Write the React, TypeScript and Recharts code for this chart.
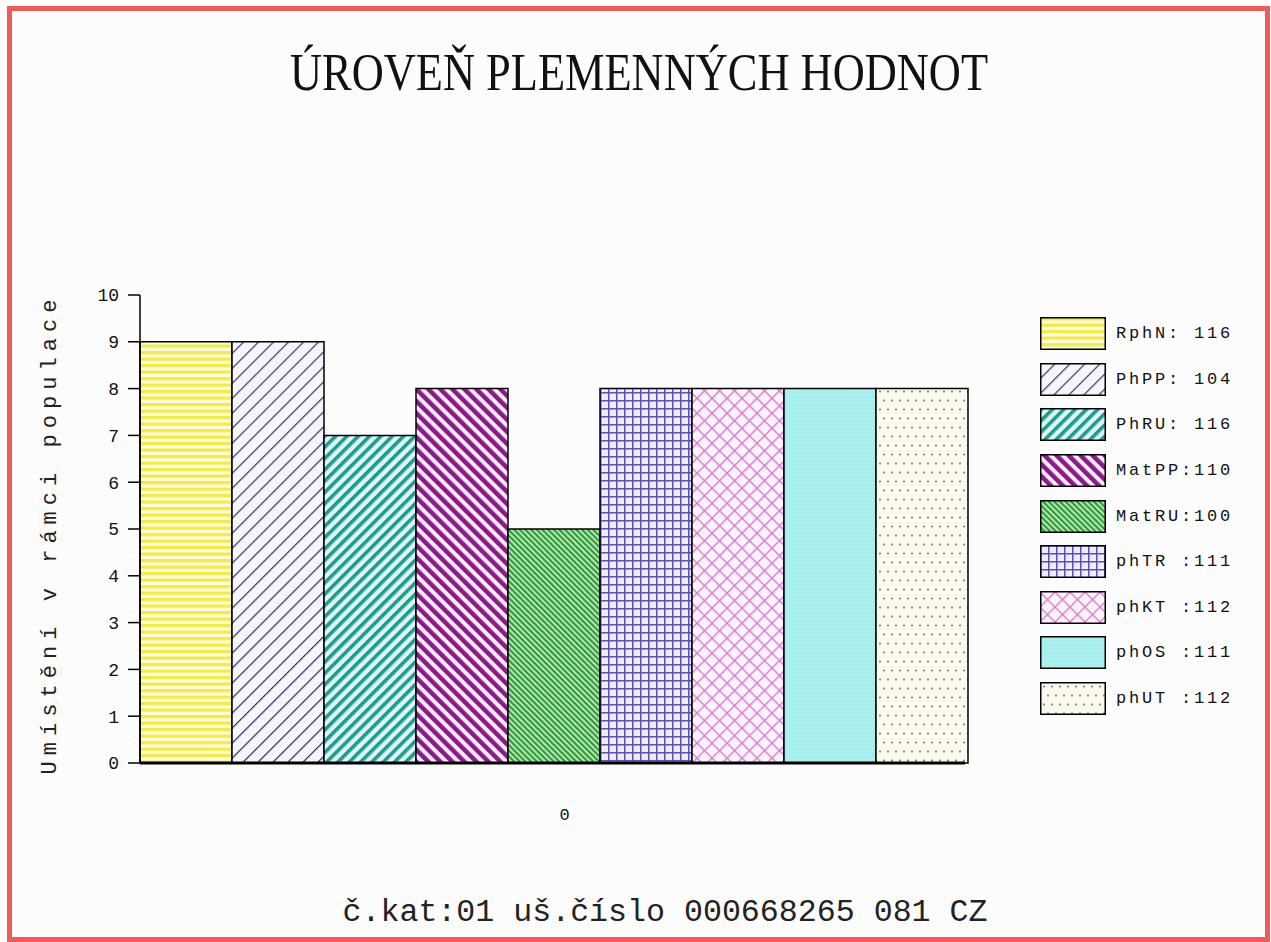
import React from 'react'
import { BarChart, Bar, XAxis, YAxis, Legend } from 'recharts'

const categories = ['0']
const seriesNames = ['RphN', 'PhPP', 'PhRU', 'MatPP', 'MatRU', 'phTR', 'phKT', 'phOS', 'phUT']
const rankValues = [9, 9, 7, 8, 5, 8, 8, 8, 8]
const legendLabels = ['RphN: 116', 'PhPP: 104', 'PhRU: 116', 'MatPP:110', 'MatRU:100', 'phTR :111', 'phKT :112', 'phOS :111', 'phUT :112']
const yTicks = [0, 1, 2, 3, 4, 5, 6, 7, 8, 9, 10]

const titleText = 'ÚROVEŇ PLEMENNÝCH HODNOT'
const yLabelText = 'Umístění v rámci populace'
const footerText = 'č.kat:01 uš.číslo 000668265 081 CZ'

const mono = '"Liberation Mono", "DejaVu Sans Mono", monospace'

// one row per category, one key per series
const radky = categories.map((kat) => {
  const radek: Record<string, string | number> = { name: kat }
  seriesNames.forEach((s, i) => { radek[s] = rankValues[i] })
  return radek
})

const vzory = () => (
  <svg width={0} height={0} style={{ position: 'absolute' }}>
    <defs>
      <pattern id="vz0" patternUnits="userSpaceOnUse" width={8} height={6.5}>
        <rect width={8} height={6.5} fill="#fffde6" />
        <rect width={8} height={3.3} fill="#f3ec42" />
      </pattern>
      <pattern id="vz1" patternUnits="userSpaceOnUse" width={10.6} height={10} patternTransform="rotate(45)">
        <rect width={10.6} height={10} fill="#f5f5fc" />
        <rect width={1.2} height={10} fill="#33335c" />
      </pattern>
      <pattern id="vz2" patternUnits="userSpaceOnUse" width={8} height={10} patternTransform="rotate(45)">
        <rect width={8} height={10} fill="#dcf7f5" />
        <rect width={3.6} height={10} fill="#1f9a8c" />
      </pattern>
      <pattern id="vz3" patternUnits="userSpaceOnUse" width={8.5} height={10} patternTransform="rotate(-45)">
        <rect width={8.5} height={10} fill="#ffeeff" />
        <rect width={4.5} height={10} fill="#8a1a88" />
      </pattern>
      <pattern id="vz4" patternUnits="userSpaceOnUse" width={4} height={10} patternTransform="rotate(-45)">
        <rect width={4} height={10} fill="#b2e6b0" />
        <rect width={2} height={10} fill="#2f9a3a" />
      </pattern>
      <pattern id="vz5" patternUnits="userSpaceOnUse" width={8} height={8}>
        <rect width={8} height={8} fill="#ededff" />
        <rect width={1.5} height={8} fill="#5a50b8" />
        <rect width={8} height={1.5} fill="#5a50b8" />
      </pattern>
      <pattern id="vz6" patternUnits="userSpaceOnUse" width={10.6} height={10.6} patternTransform="rotate(45)">
        <rect width={10.6} height={10.6} fill="#fff2ff" />
        <rect width={1.4} height={10.6} fill="#d47fca" />
        <rect width={10.6} height={1.4} fill="#d47fca" />
      </pattern>
      <pattern id="vz7" patternUnits="userSpaceOnUse" width={4} height={4}>
        <rect width={4} height={4} fill="#aaf0ee" />
        <rect x={1} y={1} width={1} height={1} fill="#98e6e4" />
      </pattern>
      <pattern id="vz8" patternUnits="userSpaceOnUse" width={16} height={18}>
        <rect width={16} height={18} fill="#fbf8ee" />
        <circle cx={4} cy={4.5} r={0.9} fill="#6a6a6a" />
        <circle cx={12} cy={4.5} r={0.9} fill="#6a6a6a" />
        <circle cx={8} cy={13.5} r={0.9} fill="#6a6a6a" />
        <circle cx={0} cy={13.5} r={0.9} fill="#6a6a6a" />
        <circle cx={16} cy={13.5} r={0.9} fill="#6a6a6a" />
      </pattern>
    </defs>
  </svg>
)

const LegendaObsah = () => (
  <div>
    {seriesNames.map((s, i) => (
      <div key={s} style={{ display: 'flex', alignItems: 'center', height: 45.6 }}>
        <svg width={66} height={33} style={{ display: 'block' }}>
          <rect x={0.75} y={0.75} width={64.5} height={31.5} fill={`url(#vz${i})`} stroke="#000" strokeWidth={1.5} />
        </svg>
        <span style={{ marginLeft: 10, fontFamily: mono, fontSize: 17, letterSpacing: 2.8, whiteSpace: 'pre', color: '#111' }}>
          {legendLabels[i]}
        </span>
      </div>
    ))}
  </div>
)

const OsaXTick = (props: any) => {
  const { x, y, payload } = props
  return (
    <text x={x + 12} y={y + 57} textAnchor="middle" fontFamily={mono} fontSize={17} fill="#111">
      {payload.value}
    </text>
  )
}

export default function App() {
  return (
    <div style={{ position: 'absolute', left: 0, top: 0, width: 1271, height: 942, background: '#fff', overflow: 'hidden' }}>
      <div style={{
        position: 'absolute', left: 7, top: 6, width: 1263, height: 936,
        border: '5px solid #ef5a5a', boxSizing: 'border-box', background: '#fcfcfc'
      }} />
      {vzory()}
      <div style={{ position: 'absolute', left: 0, top: 0 }}>
        <BarChart
          width={1271}
          height={942}
          data={radky}
          margin={{ top: 295, right: 306, bottom: 119, left: 80 }}
          barGap={0}
          barCategoryGap={0}
        >
          <XAxis
            dataKey="name"
            height={60}
            axisLine={{ stroke: '#000', strokeWidth: 3 }}
            tickLine={false}
            tickSize={0}
            tickMargin={0}
            tick={<OsaXTick />}
          />
          <YAxis
            domain={[0, 10]}
            ticks={yTicks}
            interval={0}
            width={60}
            tickSize={12}
            tickMargin={9}
            axisLine={{ stroke: '#000', strokeWidth: 1.5 }}
            tickLine={{ stroke: '#000', strokeWidth: 1.5 }}
            tick={{ fill: '#111', fontSize: 18, fontFamily: mono }}
          />
          <Legend
            layout="vertical"
            align="center"
            verticalAlign="middle"
            wrapperStyle={{ left: 1040, top: 311, width: 220 }}
            content={<LegendaObsah />}
          />
          {seriesNames.map((s, i) => (
            <Bar
              key={s}
              dataKey={s}
              fill={`url(#vz${i})`}
              stroke="#000"
              strokeWidth={1.5}
              isAnimationActive={false}
            />
          ))}
        </BarChart>
      </div>
      <svg width={1271} height={942} style={{ position: 'absolute', left: 0, top: 0, pointerEvents: 'none' }}>
        <text x={639} y={90} textAnchor="middle" fontFamily='"Liberation Serif", "DejaVu Serif", serif'
          fontSize={52} fill="#111" textLength={698} lengthAdjust="spacingAndGlyphs">
          {titleText}
        </text>
        <text x={56} y={537} textAnchor="middle" transform="rotate(-90 56 537)" fontFamily={mono}
          fontSize={22} fill="#222" textLength={475} lengthAdjust="spacing">
          {yLabelText}
        </text>
        <text x={665} y={921} textAnchor="middle" fontFamily={mono} fontSize={31} fill="#222"
          textLength={645} lengthAdjust="spacingAndGlyphs">
          {footerText}
        </text>
      </svg>
    </div>
  )
}
